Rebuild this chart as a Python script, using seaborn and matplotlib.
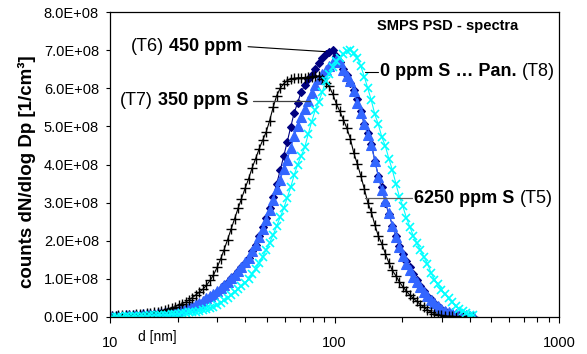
import numpy as np
import matplotlib
matplotlib.use("Agg")
import matplotlib.pyplot as plt
import seaborn as sns
from matplotlib.ticker import FuncFormatter, FixedLocator, LogLocator, NullFormatter

# ---- data -------------------------------------------------------------
# SMPS channel mid-point diameters [nm] (64 channels / decade)
d_nm = [
    10.2, 10.6, 10.9, 11.3, 11.8, 12.2, 12.6, 13.1, 13.6, 14.1,
    14.6, 15.1, 15.7, 16.3, 16.8, 17.5, 18.1, 18.8, 19.5, 20.2,
    20.9, 21.7, 22.5, 23.3, 24.1, 25.0, 25.9, 26.9, 27.9, 28.9,
    30.0, 31.1, 32.2, 33.4, 34.6, 35.9, 37.2, 38.5, 40.0, 41.4,
    42.9, 44.5, 46.1, 47.8, 49.6, 51.4, 53.3, 55.2, 57.3, 59.4,
    61.5, 63.8, 66.1, 68.5, 71.0, 73.7, 76.4, 79.1, 82.0, 85.1,
    88.2, 91.4, 94.7, 98.2, 101.8, 105.5, 109.4, 113.4, 117.6, 121.9,
    126.3, 131.0, 135.8, 140.7, 145.9, 151.2, 156.8, 162.5, 168.5, 174.7,
    181.1, 187.7, 194.6, 201.7, 209.1, 216.7, 224.7, 232.9, 241.4, 250.3,
    259.5, 269.0, 278.8, 289.0, 299.6, 310.6, 322.0, 333.8, 346.0, 358.7,
    371.8, 385.4, 399.5, 414.2,
]

# dN/dlogDp in units of 1E+08 1/cm3
t6_450ppm = [
    0.01, 0.01, 0.02, 0.02, 0.02, 0.03, 0.03, 0.04, 0.04, 0.05,
    0.05, 0.06, 0.07, 0.08, 0.09, 0.10, 0.11, 0.13, 0.14, 0.16,
    0.18, 0.20, 0.23, 0.26, 0.30, 0.35, 0.40, 0.46, 0.52, 0.59,
    0.66, 0.74, 0.83, 0.92, 1.01, 1.10, 1.20, 1.30, 1.42, 1.56,
    1.72, 1.90, 2.12, 2.36, 2.60, 2.86, 3.15, 3.48, 3.85, 4.22,
    4.58, 4.98, 5.35, 5.62, 5.90, 6.08, 6.24, 6.36, 6.50, 6.65,
    6.80, 6.90, 6.95, 7.00, 6.85, 6.68, 6.50, 6.35, 6.15, 5.95,
    5.72, 5.40, 5.05, 4.82, 4.55, 4.10, 3.70, 3.40, 3.00, 2.70,
    2.40, 2.12, 1.86, 1.66, 1.48, 1.31, 1.13, 0.97, 0.82, 0.67,
    0.56, 0.46, 0.37, 0.28, 0.21, 0.15, 0.11, 0.08, 0.06, 0.04,
    0.03, 0.02, 0.02, 0.01,
]

t5_6250ppm = [
    0.02, 0.03, 0.03, 0.03, 0.04, 0.04, 0.05, 0.05, 0.06, 0.07,
    0.07, 0.08, 0.09, 0.10, 0.11, 0.12, 0.14, 0.15, 0.17, 0.19,
    0.21, 0.24, 0.27, 0.30, 0.34, 0.38, 0.43, 0.49, 0.55, 0.61,
    0.68, 0.76, 0.84, 0.92, 1.01, 1.10, 1.20, 1.31, 1.43, 1.56,
    1.72, 1.90, 2.10, 2.32, 2.55, 2.80, 3.07, 3.35, 3.60, 3.88,
    4.12, 4.42, 4.74, 5.02, 5.25, 5.45, 5.66, 5.88, 6.08, 6.24,
    6.38, 6.48, 6.58, 6.68, 6.75, 6.68, 6.48, 6.32, 6.18, 5.92,
    5.62, 5.36, 5.05, 4.78, 4.50, 4.10, 3.68, 3.32, 3.05, 2.72,
    2.40, 2.10, 1.84, 1.60, 1.40, 1.22, 1.06, 0.92, 0.78, 0.65,
    0.54, 0.45, 0.36, 0.28, 0.22, 0.17, 0.13, 0.10, 0.08, 0.06,
    0.05, 0.04, 0.03, 0.03,
]

t7_350ppm = [
    0.03, 0.03, 0.04, 0.04, 0.05, 0.05, 0.06, 0.07, 0.08, 0.09,
    0.10, 0.11, 0.13, 0.14, 0.16, 0.18, 0.21, 0.24, 0.27, 0.31,
    0.35, 0.39, 0.45, 0.51, 0.58, 0.65, 0.73, 0.83, 0.96, 1.10,
    1.30, 1.52, 1.76, 2.03, 2.30, 2.58, 2.85, 3.10, 3.38, 3.62,
    3.90, 4.15, 4.40, 4.63, 4.85, 5.15, 5.50, 5.80, 6.00, 6.12,
    6.20, 6.24, 6.26, 6.27, 6.28, 6.28, 6.29, 6.30, 6.32, 6.32,
    6.25, 6.15, 6.05, 5.85, 5.60, 5.40, 5.18, 4.96, 4.68, 4.30,
    4.02, 3.70, 3.36, 3.00, 2.75, 2.42, 2.12, 1.92, 1.66, 1.42,
    1.22, 1.08, 0.92, 0.79, 0.68, 0.57, 0.49, 0.41, 0.32, 0.25,
    0.19, 0.13, 0.09, 0.06, 0.04, 0.03, 0.02, 0.02, 0.01, 0.01,
    0.01, 0.01, 0.01, 0.01,
]

t8_0ppm = [
    0.01, 0.01, 0.01, 0.01, 0.02, 0.02, 0.02, 0.02, 0.03, 0.03,
    0.03, 0.04, 0.04, 0.05, 0.05, 0.06, 0.06, 0.07, 0.08, 0.09,
    0.10, 0.11, 0.12, 0.13, 0.14, 0.16, 0.18, 0.20, 0.23, 0.27,
    0.32, 0.38, 0.44, 0.51, 0.58, 0.66, 0.74, 0.82, 0.90, 1.00,
    1.12, 1.26, 1.42, 1.58, 1.76, 1.95, 2.15, 2.38, 2.62, 2.85,
    3.12, 3.40, 3.72, 4.00, 4.22, 4.45, 4.80, 5.12, 5.42, 5.65,
    5.90, 6.20, 6.38, 6.55, 6.72, 6.80, 6.90, 6.98, 7.00, 6.92,
    6.80, 6.58, 6.30, 6.00, 5.68, 5.32, 5.05, 4.72, 4.48, 4.15,
    3.85, 3.50, 3.15, 2.90, 2.60, 2.36, 2.12, 1.93, 1.76, 1.57,
    1.40, 1.16, 0.98, 0.86, 0.72, 0.60, 0.49, 0.39, 0.30, 0.21,
    0.15, 0.10, 0.06, 0.04,
]

UNIT = 1e8
x_tick_values = [10, 100, 1000]
y_tick_values = [0, 1, 2, 3, 4, 5, 6, 7, 8]

# ---- style --------------------------------------------------------------
sns.set_theme(style="white")
plt.rcParams["font.family"] = ["Liberation Sans", "DejaVu Sans"]

fig = plt.figure(figsize=(5.87, 3.54), dpi=100)
ax = fig.add_axes([110 / 587, 37 / 354, 449 / 587, 305 / 354])

series = [
    (t6_450ppm, "#000080", "D", 3.6, 0.8),
    (t5_6250ppm, "#3366FF", "^", 7.5, 0.8),
    (t7_350ppm, "#000000", "+", 7.0, 1.0),
    (t8_0ppm, "#00FFFF", "x", 5.5, 1.2),
]
for vals, col, mk, ms, mew in series:
    sns.lineplot(
        x=d_nm, y=np.asarray(vals) * UNIT, ax=ax, color=col,
        marker=mk, markersize=ms, markeredgewidth=mew,
        markeredgecolor=col, markerfacecolor=col,
        linewidth=0.8, estimator=None, sort=False, legend=False,
    )

ax.set_xscale("log")
ax.set_xlim(10, 1000)
ax.set_ylim(0, 8 * UNIT)
ax.xaxis.set_major_locator(FixedLocator(x_tick_values))
ax.xaxis.set_major_formatter(FuncFormatter(lambda v, p: f"{v:g}"))
ax.xaxis.set_minor_locator(LogLocator(base=10, subs=range(2, 10)))
ax.xaxis.set_minor_formatter(NullFormatter())
ax.yaxis.set_major_locator(FixedLocator([v * UNIT for v in y_tick_values]))
ax.yaxis.set_major_formatter(
    FuncFormatter(lambda v, p: "0.0E+00" if v == 0 else f"{v / UNIT:.1f}E+08"))

for sp in ax.spines.values():
    sp.set_visible(True)
    sp.set_color("black")
    sp.set_linewidth(0.9)

ax.tick_params(axis="x", which="major", bottom=True, direction="out",
               length=4, width=0.8, color="black", pad=10, labelsize=10.5,
               labelcolor="black")
ax.tick_params(axis="x", which="minor", bottom=True, direction="out",
               length=3.5, width=0.8, color="black")
ax.tick_params(axis="y", which="major", left=True, direction="out",
               length=3, width=0.8, color="black", pad=5, labelsize=10.5,
               labelcolor="black")

ax.set_xlabel("")
ax.set_ylabel("counts dN/dlog Dp [1/cm³]", fontsize=13.5, fontweight="bold",
              color="black")
ax.yaxis.set_label_coords(-0.165, 0.475)

ax.text(13.3, -0.066, "d [nm]", transform=ax.get_xaxis_transform(),
        ha="left", va="center", fontsize=10, color="black")

ax.text(0.753, 0.954, "SMPS PSD - spectra", transform=ax.transAxes,
        ha="center", va="center", fontsize=10.5, fontweight="bold",
        color="black")

FS = 13


def label_right(x, y, normal, bold):
    t = ax.text(x, y, bold, ha="right", va="center", fontsize=FS,
                fontweight="bold", color="black")
    ax.annotate(normal, xy=(0, 0), xycoords=t, xytext=(-FS * 0.28, 0),
                textcoords="offset points", ha="right", va="bottom",
                fontsize=FS, color="black")


def label_left(x, y, bold, normal):
    t = ax.text(x, y, bold, ha="left", va="center", fontsize=FS,
                fontweight="bold", color="black")
    ax.annotate(normal, xy=(1, 0), xycoords=t, xytext=(FS * 0.28, 0),
                textcoords="offset points", ha="left", va="bottom",
                fontsize=FS, color="black")


# leader lines
ax.plot([41.2, 91.0], [7.09 * UNIT, 6.96 * UNIT], color="black", lw=0.8)
ax.plot([43.4, 78.0], [5.67 * UNIT, 5.67 * UNIT], color="#404040", lw=0.9)
ax.plot([137.0, 156.0], [6.43 * UNIT, 6.43 * UNIT], color="black", lw=0.8)
ax.plot([137.0, 221.0], [3.12 * UNIT, 3.12 * UNIT], color="#606060", lw=0.9)

label_right(39.0, 7.09 * UNIT, "(T6)", "450 ppm")
label_right(41.2, 5.67 * UNIT, "(T7)", "350 ppm S")
label_left(159.5, 6.43 * UNIT, "0 ppm S \u2026 Pan.", "(T8)")
label_left(226.0, 3.12 * UNIT, "6250 ppm S", "(T5)")

fig.savefig("out.png", dpi=100)
